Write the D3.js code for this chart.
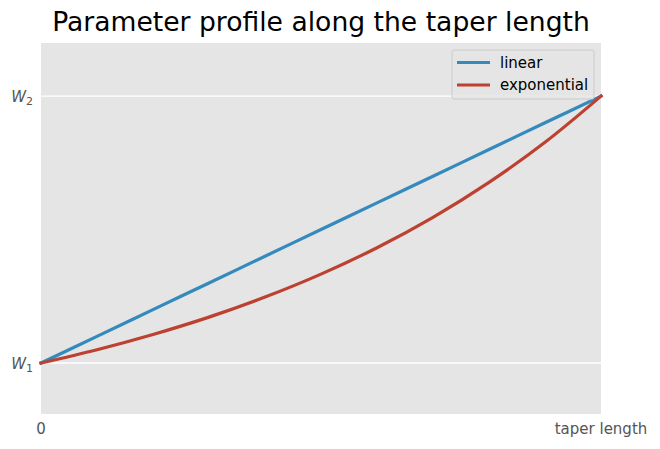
<!DOCTYPE html>
<html>
<meta charset="utf-8">
<head>
  <title>Parameter profile along the taper length</title>
</head>

<style>
body { margin: 0; background: white; }
text { font-family: "DejaVu Sans", sans-serif; }
.tick-label { font-size: 15px; fill: #555555; }
</style>

<body>
  <div id="chart"></div>

  <script src="https://d3js.org/d3.v7.min.js"></script>
  <script>

// position along the taper (0 = start, 1 = taper length)
var positions = [0, 0.1, 0.2, 0.3, 0.4, 0.5, 0.6, 0.7, 0.8, 0.9, 1];
// width between W1 (0) and W2 (1)
var linearValues = [0, 0.1, 0.2, 0.3, 0.4, 0.5, 0.6, 0.7, 0.8, 0.9, 1];
var exponentialValues = [0, 0.05, 0.107, 0.172, 0.247, 0.333, 0.432, 0.546, 0.677, 0.827, 1];

var seriesNames = ['linear', 'exponential'];
var xTickValues = [0, 1];
var xTickLabels = ['0', 'taper length'];
var yTickValues = [0, 1];
var yTickSubs = ['1', '2'];

var width = 660, height = 449;
var margin = {top: 43, right: 59, bottom: 35, left: 41};
var colors = ['#348ABD', '#bd4130'];

var svg = d3.select('#chart')
  .append('svg')
  .attr('width', width)
  .attr('height', height);

var x = d3.scaleLinear()
  .domain([0, 1])
  .range([margin.left, width - margin.right]);

var y = d3.scaleLinear()
  .domain([-0.191, 1.199])
  .range([height - margin.bottom, margin.top]);

// panel background
svg.append('rect')
  .attr('x', margin.left)
  .attr('y', margin.top)
  .attr('width', width - margin.left - margin.right)
  .attr('height', height - margin.top - margin.bottom)
  .attr('fill', '#e5e5e5');

// grid lines
svg.append('g')
  .selectAll('line')
  .data(yTickValues)
  .enter()
  .append('line')
  .attr('x1', margin.left)
  .attr('x2', width - margin.right)
  .attr('y1', function(d) { return y(d); })
  .attr('y2', function(d) { return y(d); })
  .attr('stroke', 'white')
  .attr('stroke-width', 1.3);

// x tick labels
svg.append('g')
  .selectAll('text')
  .data(xTickValues)
  .enter()
  .append('text')
  .attr('class', 'tick-label')
  .attr('x', function(d) { return x(d); })
  .attr('y', 434)
  .attr('text-anchor', 'middle')
  .text(function(d, i) { return xTickLabels[i]; });

// y tick labels: W with subscript
var yLabels = svg.append('g')
  .selectAll('text')
  .data(yTickValues)
  .enter()
  .append('text')
  .attr('class', 'tick-label')
  .attr('x', 33)
  .attr('y', function(d) { return y(d) + 6; })
  .attr('text-anchor', 'end');

yLabels.append('tspan')
  .attr('font-style', 'italic')
  .text('W');
yLabels.append('tspan')
  .attr('font-size', '11px')
  .attr('dy', 3)
  .text(function(d, i) { return yTickSubs[i]; });

// lines
var line = d3.line()
  .x(function(d) { return x(d[0]); })
  .y(function(d) { return y(d[1]); })
  .curve(d3.curveCatmullRom.alpha(0.5));

var seriesData = [
  d3.zip(positions, linearValues),
  d3.zip(positions, exponentialValues)
];

svg.append('g')
  .selectAll('path')
  .data(seriesData)
  .enter()
  .append('path')
  .attr('d', line)
  .attr('fill', 'none')
  .attr('stroke', function(d, i) { return colors[i]; })
  .attr('stroke-width', 3.2)
  .attr('stroke-linecap', 'square');

// title
svg.append('text')
  .attr('x', (margin.left + width - margin.right) / 2)
  .attr('y', 31)
  .attr('text-anchor', 'middle')
  .attr('font-size', '26.6px')
  .attr('fill', 'black')
  .text('Parameter profile along the taper length');

// legend
var legend = svg.append('g').attr('transform', 'translate(452, 50)');
legend.append('rect')
  .attr('width', 142)
  .attr('height', 49)
  .attr('rx', 2)
  .attr('fill', '#e5e5e5')
  .attr('fill-opacity', 0.8)
  .attr('stroke', '#cccccc')
  .attr('stroke-width', 1);

var items = legend.selectAll('g.item')
  .data(seriesNames)
  .enter()
  .append('g')
  .attr('class', 'item')
  .attr('transform', function(d, i) { return 'translate(0,' + (12.5 + i * 22.5) + ')'; });

items.append('line')
  .attr('x1', 5)
  .attr('x2', 38)
  .attr('stroke', function(d, i) { return colors[i]; })
  .attr('stroke-width', 3.2);

items.append('text')
  .attr('x', 48)
  .attr('y', 5)
  .attr('font-size', '15px')
  .attr('fill', 'black')
  .text(function(d) { return d; });

  </script>
</body>
</html>
